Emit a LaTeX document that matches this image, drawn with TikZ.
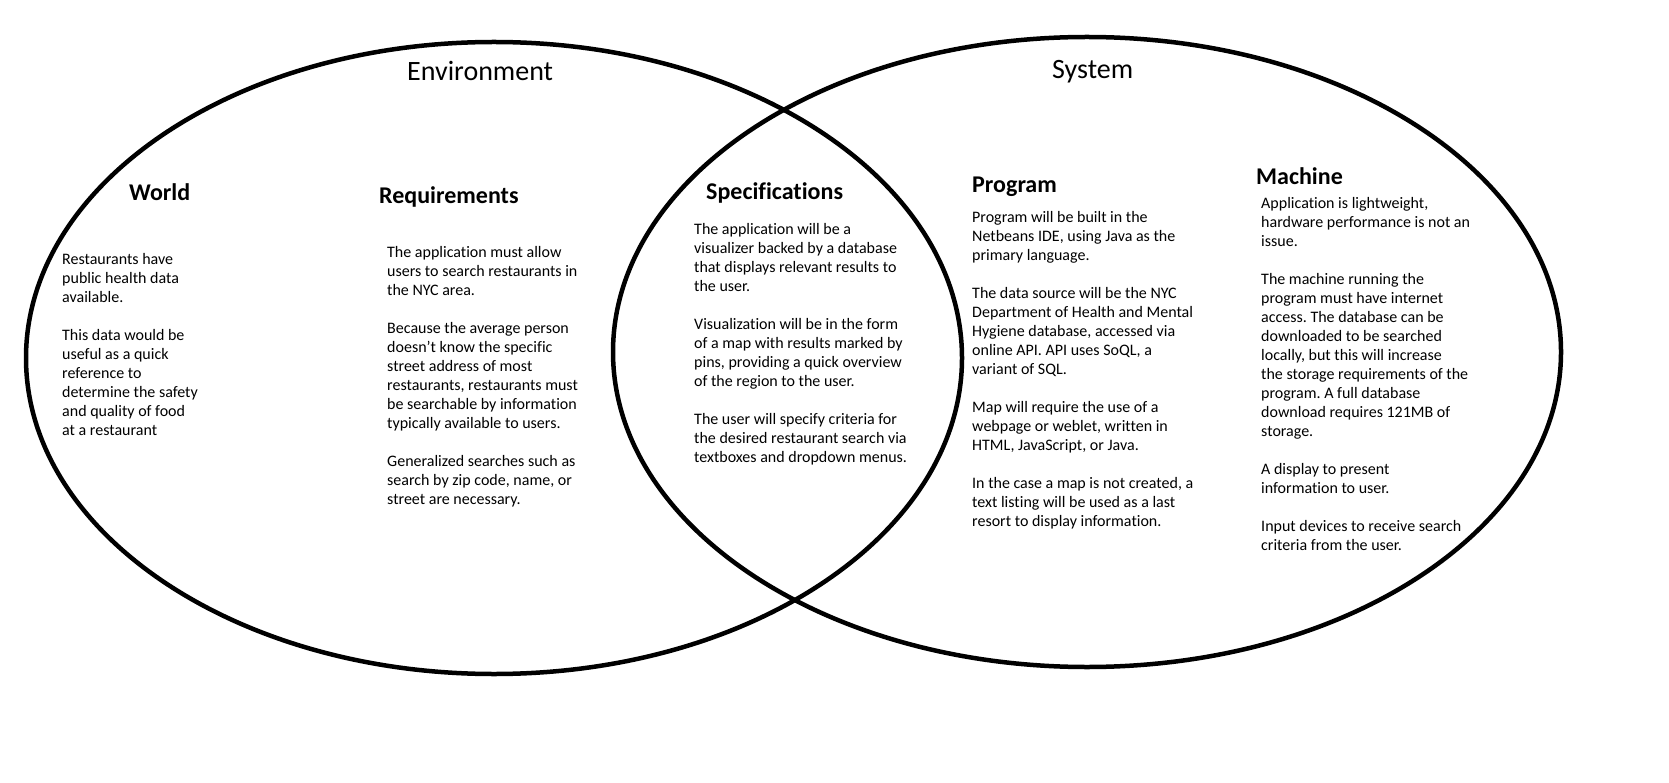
\documentclass[tikz,border=0pt]{standalone}
\usepackage{fontspec}
\setmainfont{Carlito}[Ligatures=NoCommon]
\frenchspacing
\newcommand{\blocktext}[1]{\begin{tabular}[t]{@{}l@{}}#1\end{tabular}}
\begin{document}
\begin{tikzpicture}[x=1pt,y=-1pt,
  setring/.style={line width=4.5pt, draw=black},
  settitle/.style={font=\fontsize{28}{33}\selectfont, inner sep=0pt, anchor=base west},
  heading/.style={font=\fontsize{24}{29}\selectfont\bfseries, inner sep=0pt, anchor=base west},
  body/.style={font=\fontsize{16}{19}\selectfont, inner sep=0pt, anchor=base west}]
\fill[white] (0,0) rectangle (1669,783);
\useasboundingbox (0,0) rectangle (1669,783);

% the two overlapping sets
\draw[setring] (494,358) ellipse [x radius=468, y radius=316];
\draw[setring] (1087,352) ellipse [x radius=474, y radius=315];

% set titles
\node[settitle] (env) at (407,81) {Environment};
\node[settitle] (sys) at (1052,79) {System};

% region headings
\node[heading] (world) at (129,201) {World};
\node[heading] (req) at (379,204) {Requirements};
\node[heading] (spec) at (706,200) {Specifications};
\node[heading] (prog) at (972,193) {Program};
\node[heading] (mach) at (1256,185) {Machine};

% region texts
\node[body] (worldtext) at (62,265) {\blocktext{%
Restaurants have\\
public health data\\
available.\\
\\
This data would be\\
useful as a quick\\
reference to\\
determine the safety\\
and quality of food\\
at a restaurant}};

\node[body] (reqtext) at (387,258) {\blocktext{%
The application must allow\\
users to search restaurants in\\
the NYC area.\\
\\
Because the average person\\
doesn't know the specific\\
street address of most\\
restaurants, restaurants must\\
be searchable by information\\
typically available to users.\\
\\
Generalized searches such as\\
search by zip code, name, or\\
street are necessary.}};

\node[body] (spectext) at (694,235) {\blocktext{%
The application will be a\\
visualizer backed by a database\\
that displays relevant results to\\
the user.\\
\\
Visualization will be in the form\\
of a map with results marked by\\
pins, providing a quick overview\\
of the region to the user.\\
\\
The user will specify criteria for\\
the desired restaurant search via\\
textboxes and dropdown menus.}};

\node[body] (progtext) at (972,223) {\blocktext{%
Program will be built in the\\
Netbeans IDE, using Java as the\\
primary language.\\
\\
The data source will be the NYC\\
Department of Health and Mental\\
Hygiene database, accessed via\\
online API. API uses SoQL, a\\
variant of SQL.\\
\\
Map will require the use of a\\
webpage or weblet, written in\\
HTML, JavaScript, or Java.\\
\\
In the case a map is not created, a\\
text listing will be used as a last\\
resort to display information.}};

\node[body] (machtext) at (1261,209) {\blocktext{%
Application is lightweight,\\
hardware performance is not an\\
issue.\\
\\
The machine running the\\
program must have internet\\
access. The database can be\\
downloaded to be searched\\
locally, but this will increase\\
the storage requirements of the\\
program. A full database\\
download requires 121MB of\\
storage.\\
\\
A display to present\\
information to user.\\
\\
Input devices to receive search\\
criteria from the user.}};
\end{tikzpicture}
\end{document}
